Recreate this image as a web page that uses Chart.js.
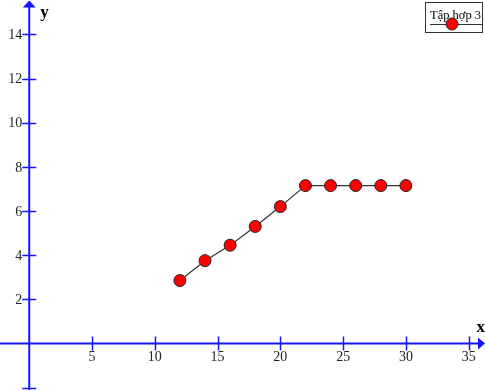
<!DOCTYPE html>
<html>
<head>
<meta charset="utf-8">
<script src="https://cdn.jsdelivr.net/npm/chart.js@4"></script>
<style>
  html, body { margin: 0; padding: 0; background: #fff; }
  #wrap { width: 485px; height: 390px; }
</style>
</head>
<body>
<div id="wrap"><canvas id="chart" width="485" height="390"></canvas></div>
<script>
// Data
const seriesLabel = "Tập hợp 3";
const xValues = [12, 14, 16, 18, 20, 22, 24, 26, 28, 30];
const yValues = [2.85, 3.75, 4.45, 5.3, 6.2, 7.15, 7.15, 7.15, 7.15, 7.15];

// Axis ticks
const xTicks = [5, 10, 15, 20, 25, 30, 35];
const yTicks = [2, 4, 6, 8, 10, 12, 14];
const yTicksNoLabel = [-2];

const points = xValues.map((x, i) => ({ x: x, y: yValues[i] }));

const axisColor = "#1414ff";
const serif = "'Liberation Serif', 'DejaVu Serif', serif";

// Draws the cross-shaped axes with arrows, ticks and labels
const axesPlugin = {
    id: "axes",
    beforeDatasetsDraw(chart) {
        const ctx = chart.ctx;
        const xs = chart.scales.x;
        const ys = chart.scales.y;
        const area = chart.chartArea;
        const ox = xs.getPixelForValue(0);
        const oy = ys.getPixelForValue(0);

        ctx.save();
        ctx.strokeStyle = axisColor;
        ctx.fillStyle = axisColor;
        ctx.lineWidth = 2;

        // x axis
        ctx.beginPath();
        ctx.moveTo(area.left, oy);
        ctx.lineTo(area.right - 4, oy);
        ctx.stroke();
        ctx.beginPath();
        ctx.moveTo(area.right, oy);
        ctx.lineTo(area.right - 7, oy - 6);
        ctx.lineTo(area.right - 7, oy + 6);
        ctx.closePath();
        ctx.fill();

        // y axis
        ctx.beginPath();
        ctx.moveTo(ox, area.bottom);
        ctx.lineTo(ox, area.top + 4);
        ctx.stroke();
        ctx.beginPath();
        ctx.moveTo(ox, area.top + 0.5);
        ctx.lineTo(ox - 6.5, area.top + 7.5);
        ctx.lineTo(ox + 6.5, area.top + 7.5);
        ctx.closePath();
        ctx.fill();

        // ticks
        ctx.lineWidth = 1.5;
        xTicks.forEach(v => {
            const px = Math.round(xs.getPixelForValue(v)) + 0.5;
            ctx.beginPath();
            ctx.moveTo(px, oy - 7);
            ctx.lineTo(px, oy + 7);
            ctx.stroke();
        });
        yTicks.concat(yTicksNoLabel).forEach(v => {
            const py = Math.round(ys.getPixelForValue(v)) + 0.5;
            ctx.beginPath();
            ctx.moveTo(ox - 7, py);
            ctx.lineTo(ox + 7, py);
            ctx.stroke();
        });

        // tick labels
        ctx.fillStyle = "#222";
        ctx.font = "14px " + serif;
        ctx.textAlign = "center";
        ctx.textBaseline = "top";
        xTicks.forEach(v => {
            ctx.fillText(String(v), xs.getPixelForValue(v), oy + 7);
        });
        ctx.textAlign = "right";
        ctx.textBaseline = "middle";
        yTicks.forEach(v => {
            ctx.fillText(String(v), ox - 7, ys.getPixelForValue(v) + 1);
        });

        // axis names
        ctx.fillStyle = "#000";
        ctx.font = "bold 17px " + serif;
        ctx.textAlign = "left";
        ctx.textBaseline = "alphabetic";
        ctx.fillText("y", ox + 11, area.top + 17);
        ctx.textAlign = "right";
        ctx.fillText("x", area.right, oy - 11);
        ctx.restore();
    },
    afterDraw(chart) {
        // legend box in the top right corner
        const ctx = chart.ctx;
        ctx.save();
        ctx.fillStyle = "#fff";
        ctx.fillRect(425.5, 2.5, 57, 30);
        ctx.strokeStyle = "#333";
        ctx.lineWidth = 1;
        ctx.strokeRect(425.5, 2.5, 57, 30);
        ctx.fillStyle = "#000";
        ctx.font = "12.5px " + serif;
        ctx.textAlign = "left";
        ctx.textBaseline = "alphabetic";
        ctx.fillText(seriesLabel, 430, 19);
        ctx.strokeStyle = "#333";
        ctx.beginPath();
        ctx.moveTo(430, 24.5);
        ctx.lineTo(482, 24.5);
        ctx.stroke();
        ctx.beginPath();
        ctx.arc(452, 24, 6, 0, Math.PI * 2);
        ctx.fillStyle = "#ff0000";
        ctx.fill();
        ctx.strokeStyle = "#222";
        ctx.stroke();
        ctx.restore();
    }
};

new Chart(document.getElementById("chart").getContext("2d"), {
    type: "scatter",
    data: {
        datasets: [{
            label: seriesLabel,
            data: points,
            showLine: true,
            borderColor: "#333",
            borderWidth: 1.2,
            pointRadius: 6,
            pointHoverRadius: 6,
            pointBackgroundColor: "#ff0000",
            pointBorderColor: "#222",
            pointBorderWidth: 1
        }]
    },
    options: {
        responsive: false,
        devicePixelRatio: 1,
        animation: false,
        layout: { padding: 0, autoPadding: false },
        plugins: {
            legend: { display: false },
            tooltip: { enabled: false }
        },
        scales: {
            x: { type: "linear", display: false, min: -2.33, max: 36.3 },
            y: { type: "linear", display: false, min: -2.11, max: 15.56 }
        }
    },
    plugins: [axesPlugin]
});
</script>
</body>
</html>
